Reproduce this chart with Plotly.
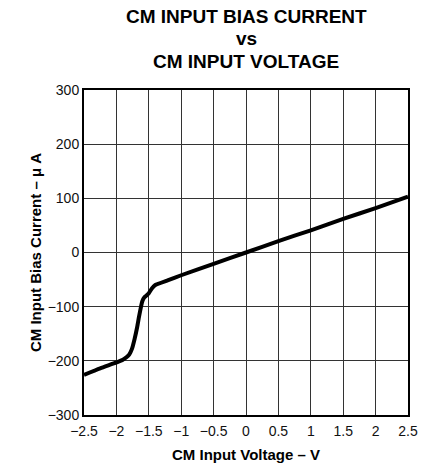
import plotly.graph_objects as go

# Common-mode input voltage (V) and input bias current (µA)
cm_voltage = [-2.5, -2.25, -2.0, -1.9, -1.84, -1.8, -1.76, -1.72, -1.68, -1.65,
              -1.62, -1.6, -1.57, -1.54, -1.5, -1.45, -1.4, -1.2, -1.0, -0.5,
              0.0, 0.5, 1.0, 1.5, 2.0, 2.5]
bias_current = [-226, -214, -203, -198, -193, -188, -178, -160, -138, -118,
                 -100, -90, -83, -80, -75, -66, -60, -51, -42, -21,
                 0, 21, 41, 62, 82, 103]

x_ticks = [-2.5, -2, -1.5, -1, -0.5, 0, 0.5, 1, 1.5, 2, 2.5]
x_tick_text = ["\u22122.5", "\u22122", "\u22121.5", "\u22121", "\u22120.5", "0",
               "0.5", "1", "1.5", "2", "2.5"]
y_ticks = [-300, -200, -100, 0, 100, 200, 300]
y_tick_text = ["\u2212300", "\u2212200", "\u2212100", "0", "100", "200", "300"]

title_lines = ["CM INPUT BIAS CURRENT", "vs", "CM INPUT VOLTAGE"]

FONT = "Liberation Sans, Arial, sans-serif"

fig = go.Figure()
fig.add_trace(go.Scatter(
    x=cm_voltage, y=bias_current, mode="lines",
    line=dict(color="black", width=4, shape="spline", smoothing=0.6),
    hoverinfo="skip", showlegend=False,
))

axis_common = dict(
    showgrid=True, gridcolor="#333333", gridwidth=1,
    showline=True, linecolor="black", linewidth=2, mirror=True,
    zeroline=False, ticks="", automargin=False,
    tickfont=dict(family=FONT, size=14, color="#111111"),
)

fig.update_xaxes(range=[-2.5, 2.5], tickvals=x_ticks, ticktext=x_tick_text,
                 ticklabelstandoff=2,
                 title=dict(text="<b>CM Input Voltage \u2013 V</b>",
                            font=dict(family=FONT, size=15, color="black"),
                            standoff=12),
                 **axis_common)
fig.update_yaxes(range=[-300, 300], tickvals=y_ticks, ticktext=y_tick_text,
                 title=dict(text="<b>CM Input Bias Current \u2013 \u03bc A</b>",
                            font=dict(family=FONT, size=15, color="black"),
                            standoff=2),
                 **axis_common)

# three-line heading placed line by line (centres in pixels from the top)
plot_top, plot_bottom = 90, 415
for text, y_px in zip(title_lines, [17, 39, 61]):
    fig.add_annotation(
        text="<b>%s</b>" % text, xref="paper", yref="paper",
        x=0.5, y=(plot_bottom - y_px) / (plot_bottom - plot_top),
        xanchor="center", yanchor="middle", showarrow=False,
        font=dict(family=FONT, size=19, color="black"),
    )

fig.update_layout(
    width=435, height=469,
    margin=dict(l=84, r=27, t=plot_top, b=469 - plot_bottom),
    paper_bgcolor="white", plot_bgcolor="white",
)

fig.write_html("out.html")
